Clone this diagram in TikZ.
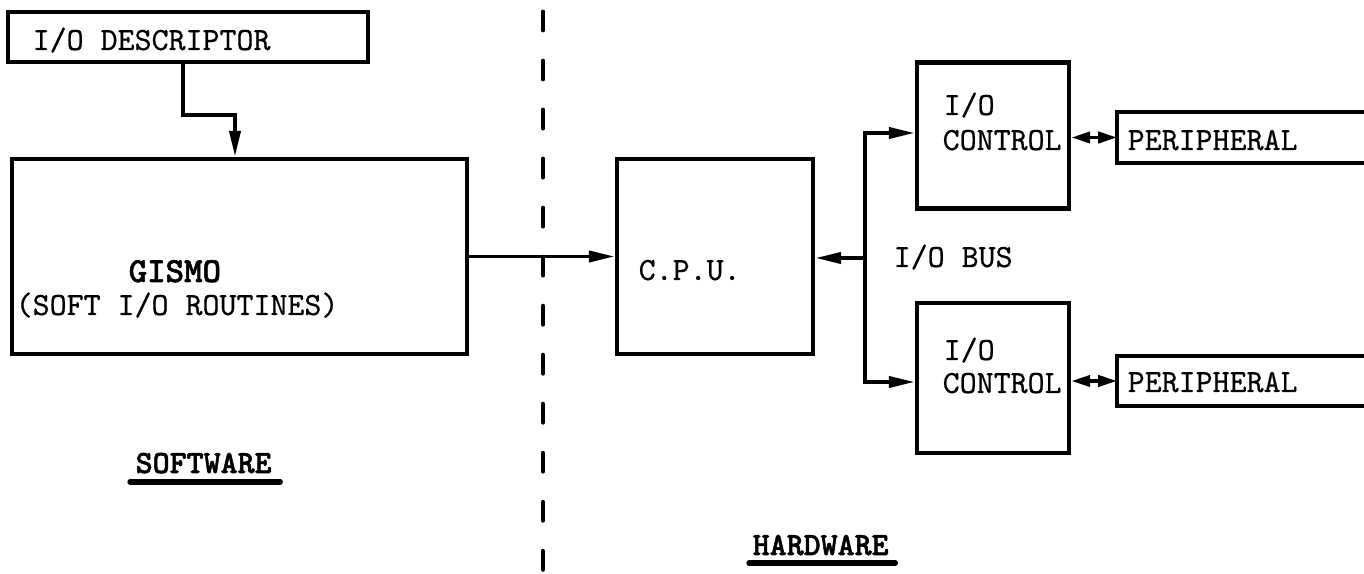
\documentclass[tikz,border=0pt]{standalone}
\usepackage{fontspec}
\newfontfamily\tttype{lmmono10-regular}[Extension=.otf, FakeBold=0.5]
\newfontfamily\ttheavy{lmmonolt10-bold}[Extension=.otf, FakeBold=1.6]
\usetikzlibrary{arrows.meta,positioning,calc}

\begin{document}
\begin{tikzpicture}[x=0.01cm, y=-0.01cm,
  box/.style={draw, rectangle, line width=1.2pt, inner sep=0pt},
  openbox/.style={line width=1.2pt},
  arr/.style={-{Triangle[length=2.6mm,width=1.1mm]}, line width=1.1pt},
  darr/.style={{Triangle[length=1.9mm,width=1.1mm]}-{Triangle[length=1.9mm,width=1.1mm]},
    line width=1.1pt},
  lbl/.style={font=\tttype\fontsize{9.2}{11}\selectfont, anchor=base west,
    inner sep=0pt},
  blbl/.style={lbl, font=\ttheavy\fontsize{9.2}{11}\selectfont},
  uline/.style={line width=1.5pt, line cap=round},
  divider/.style={line width=1.4pt, line cap=round,
    dash pattern=on 0.18cm off 0.31cm},
]
\useasboundingbox (0,0) rectangle (1364,574);
\clip (0,0) rectangle (1364,574);

% boxes
\node[box, minimum width=3.6cm, minimum height=0.5cm] (desc) at (188,37) {};
\node[box, minimum width=4.55cm, minimum height=1.95cm] (gismo) at (239.5,256.5) {};
\node[box, minimum width=1.96cm, minimum height=1.95cm] (cpu) at (715,256.5) {};
\node[box, minimum width=1.52cm, minimum height=1.46cm] (ctlA) at (993,135.5) {};
\node[box, minimum width=1.52cm, minimum height=1.5cm] (ctlB) at (993,378) {};
% peripheral boxes run off the right edge
\node[minimum width=4cm, minimum height=0.49cm, inner sep=0pt] (perA) at (1318,137.5) {};
\node[minimum width=4cm, minimum height=0.48cm, inner sep=0pt] (perB) at (1318,381) {};
\draw[openbox] (perA.north east) -- (perA.north west) -- (perA.south west) -- (perA.south east);
\draw[openbox] (perB.north east) -- (perB.north west) -- (perB.south west) -- (perB.south east);

% texts
\node[lbl] (desclbl) at (32,50) {I/O DESCRIPTOR};
\node[blbl, font=\ttheavy\fontsize{10}{11}\selectfont] (gismolbl) at (128,282) {GISMO};
\node[lbl] (softlbl) at (15,315) {(SOFT I/O ROUTINES)};
\node[lbl] (cpulbl) at (638,280) {C.P.U.};
\node[lbl] (ioA) at (943,115) {I/O};
\node[lbl] (ctlAlbl) at (942,150) {CONTROL};
\node[lbl] (ioB) at (943,360) {I/O};
\node[lbl] (ctlBlbl) at (942,393) {CONTROL};
\node[lbl] (perAlbl) at (1127,150) {PERIPHERAL};
\node[lbl] (perBlbl) at (1127,392) {PERIPHERAL};
\node[lbl] (buslbl) at (893,267) {I/O BUS};
\node[blbl] (swlbl) at (135,473) {SOFTWARE};
\node[blbl] (hwlbl) at (752,555) {HARDWARE};
\draw[uline] ($(swlbl.base west)+(-5,9)$) -- ($(swlbl.base east)+(8,9)$);
\draw[uline] ($(hwlbl.base west)+(-3,8)$) -- ($(hwlbl.base east)+(6,8)$);

% software / hardware split
\coordinate (divtop) at (543,12);
\coordinate (divbot) at (543,580);
\draw[divider] (divtop) -- (divbot);

% connectors
\coordinate (bendA) at (183,115);
\coordinate (bendB) at (235,115);
\draw[arr] (desc.south -| bendA) -- (bendA) -- (bendB) -- (gismo.north -| bendB);
\draw[arr] (gismo.east) -- (cpu.west);
\coordinate (busA) at (865,133);
\coordinate (busM) at (865,258);
\coordinate (busB) at (865,382);
\draw[arr] (busM) -- (cpu.east |- busM);
\draw[arr] (busM) -- (busA) -- (ctlA.west |- busA);
\draw[arr] (busM) -- (busB) -- (ctlB.west |- busB);
\draw[darr] (ctlA.east |- perA.west) -- (perA.west);
\draw[darr] (ctlB.east |- perB.west) -- (perB.west);
\end{tikzpicture}
\end{document}
